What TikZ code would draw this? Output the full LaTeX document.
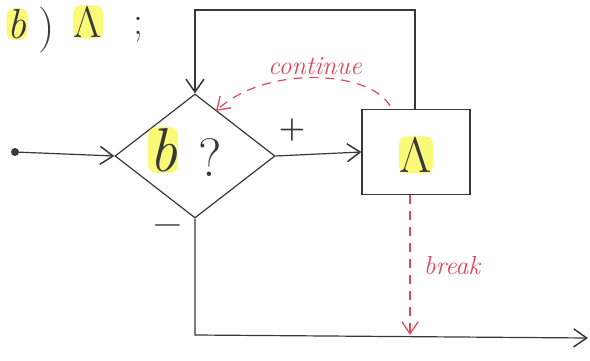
\documentclass[tikz,border=0pt]{standalone}
\usepackage{fontspec}
\usetikzlibrary{shapes.geometric,arrows.meta}
\definecolor{ink}{RGB}{55,55,60}
\definecolor{redink}{RGB}{225,70,90}
\definecolor{hl}{RGB}{250,250,120}
\begin{document}
\begin{tikzpicture}[x=1pt,y=-1pt,
  line/.style={draw=ink,line width=1.2pt},
  arr/.style={line,-{Straight Barb[length=13pt,width=18pt,line width=1.5pt]}},
  redarr/.style={draw=redink,line width=1.2pt,dash pattern=on 9pt off 7pt,-{Straight Barb[length=12pt,width=16pt,line width=1.3pt]}},
  big/.style={text=ink,inner sep=0pt},
  hilite/.style={big,fill=hl,rounded corners=8pt,inner sep=1pt},
  lab/.style={font=\fontsize{26}{28}\selectfont\itshape,text=redink}]
\useasboundingbox (0,0) rectangle (590,361);
% top-left text
\node[hilite,font=\fontsize{42}{44}\selectfont\itshape] (tb) at (17,24) {b};
\node[big,font=\fontsize{46}{48}\selectfont] (tp) at (47,30) {)};
\node[hilite,font=\fontsize{44}{46}\selectfont] (ts) at (88,22) {Λ};
\node[big,font=\fontsize{40}{42}\selectfont] (tsc) at (138,30) {;};
% diamond and box
\node[diamond,line,minimum width=160pt,minimum height=124pt,inner sep=0pt] (dia) at (195,156) {};
\node[hilite,font=\fontsize{62}{64}\selectfont\itshape] (db) at (163,150) {b};
\node[big,font=\fontsize{54}{56}\selectfont] (dq) at (210,158) {?};
\node[rectangle,line,minimum width=108pt,minimum height=85pt] (box) at (416,152) {};
\node[hilite,font=\fontsize{50}{52}\selectfont] (bs) at (416,155) {Λ};
% entry
\node[circle,fill=ink,inner sep=0pt,minimum size=8pt] (start) at (15,152) {};
\draw[arr] (start) -- (dia.west);
% plus branch
\draw[arr] (dia.east) -- (box.west);
\node[big,font=\fontsize{30}{32}\selectfont\bfseries] (plus) at (292,130) {+};
% minus branch
\node[big,font=\fontsize{40}{42}\selectfont] (minus) at (168,230) {−};
% loop back
\coordinate (tr) at (415,10);
\coordinate (tl) at (195,10);
\draw[arr] (box.north -| tr) -- (tr) -- (tl) -- (dia.north);
% exit
\coordinate (bl) at (195,335);
\coordinate (exit) at (588,338);
\draw[arr] (dia.south) -- (bl) -- (exit);
% break
\coordinate (bkt) at (410,195);
\coordinate (bkb) at (410,335);
\draw[redarr] (bkt) -- (bkb);
\node[lab] (lbreak) at (452,266) {break};
% continue
\coordinate (ct) at (390,106);
\coordinate (ce) at (216,111);
\draw[redarr] (ct) .. controls (370,70) and (265,65) .. (ce);
\node[lab] (lcont) at (315,66) {continue};
\end{tikzpicture}
\end{document}
